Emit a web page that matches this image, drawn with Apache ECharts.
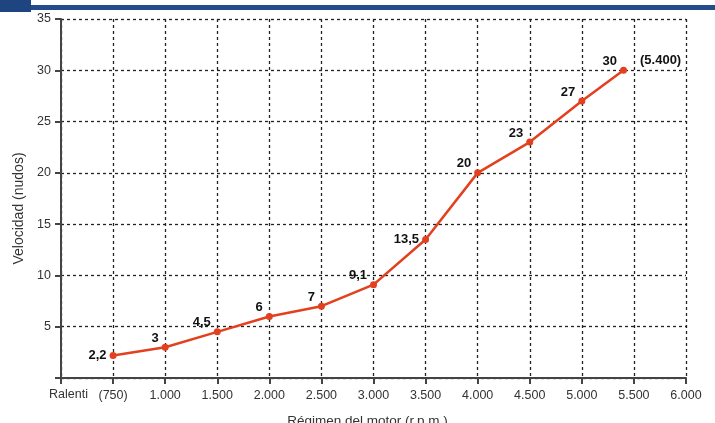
<!DOCTYPE html>
<html>
<head>
<meta charset="utf-8">
<script src="https://cdn.jsdelivr.net/npm/echarts@6/dist/echarts.min.js"></script>
<style>
html,body{margin:0;padding:0;background:#fff;}
#c{width:715px;height:423px;}
</style>
</head>
<body>
<div id="c"></div>
<script>
// Data
var rpmLabels = ['(750)', '1.000', '1.500', '2.000', '2.500', '3.000', '3.500', '4.000', '4.500', '5.000', '5.400'];
var axisPositions = [500, 1000, 1500, 2000, 2500, 3000, 3500, 4000, 4500, 5000, 5400]; // idle (750) drawn in the first slot
var speedKnots = [2.2, 3, 4.5, 6, 7, 9.1, 13.5, 20, 23, 27, 30];
var xTickValues = [500, 1000, 1500, 2000, 2500, 3000, 3500, 4000, 4500, 5000, 5500, 6000];
var xTickLabels = ['(750)', '1.000', '1.500', '2.000', '2.500', '3.000', '3.500', '4.000', '4.500', '5.000', '5.500', '6.000'];
var yTicks = [5, 10, 15, 20, 25, 30, 35];

function fmtNum(v) { return String(v).replace('.', ','); }

var labelOffsets = {0: [0, 0], 6: [0, 0]};
var lineData = axisPositions.map(function (x, i) {
  var item = { value: [x, speedKnots[i]] };
  if (labelOffsets[i]) item.label = { offset: labelOffsets[i] };
  return item;
});
var last = axisPositions.length - 1;

var chart = echarts.init(document.getElementById('c'), null, {renderer: 'canvas'});
var font = 'Liberation Sans, Arial, sans-serif';
chart.setOption({
  backgroundColor: '#ffffff',
  animation: false,
  grid: { left: 61, top: 19, right: 29, bottom: 45, containLabel: false, outerBoundsMode: 'none' },
  graphic: [
    { type: 'rect', shape: { x: 0, y: 5, width: 715, height: 5 }, style: { fill: '#234c8a' } },
    { type: 'rect', shape: { x: 0, y: 0, width: 31, height: 12 }, style: { fill: '#1f4580' } },
    { type: 'text', left: 49, top: 388, style: { text: 'Ralenti', font: '12.5px ' + font, fill: '#333' } }
  ],
  xAxis: {
    type: 'value', min: 0, max: 6000, interval: 500,
    name: 'Régimen del motor (r.p.m.)', nameLocation: 'middle', nameGap: 36,
    nameTextStyle: { fontFamily: font, fontSize: 13.5, color: '#333', padding: [0, 12, 0, 0] },
    axisLine: { show: true, onZero: false, lineStyle: { color: '#444', width: 2 } },
    axisTick: { show: true, length: 6, lineStyle: { color: '#444', width: 2 } },
    axisLabel: {
      fontFamily: font, fontSize: 12.5, color: '#333', margin: 11,
      formatter: function (v) { var i = xTickValues.indexOf(v); return i >= 0 ? xTickLabels[i] : ''; }
    },
    splitLine: { show: true, lineStyle: { color: '#222', width: 1.3, type: [3, 3] } }
  },
  yAxis: {
    type: 'value', min: 0, max: 35, interval: 5,
    name: 'Velocidad (nudos)', nameLocation: 'middle', nameGap: 34,
    nameTextStyle: { fontFamily: font, fontSize: 14, color: '#333', padding: [0, 20, 0, 0] },
    axisLine: { show: true, lineStyle: { color: '#444', width: 2 } },
    axisTick: { show: true, length: 6, lineStyle: { color: '#444', width: 2 } },
    axisLabel: {
      fontFamily: font, fontSize: 12.5, color: '#333', margin: 10,
      formatter: function (v) { return yTicks.indexOf(v) >= 0 ? String(v) : ''; }
    },
    splitLine: { show: true, lineStyle: { color: '#222', width: 1.3, type: [3, 3] } }
  },
  series: [
    {
      type: 'line',
      data: lineData,
      symbol: 'circle', symbolSize: 7,
      lineStyle: { color: '#e2401f', width: 2.5 },
      itemStyle: { color: '#e2401f' },
      label: {
        show: true, position: 'left', distance: 3, offset: [0, -9],
        fontFamily: font, fontSize: 13, fontWeight: 'bold', color: '#111',
        formatter: function (p) { return fmtNum(p.value[1]); }
      },
      z: 5
    },
    {
      type: 'scatter',
      data: [[axisPositions[last], speedKnots[last]]],
      symbolSize: 1,
      itemStyle: { color: 'rgba(0,0,0,0)', opacity: 1 },
      label: {
        show: true, position: 'right', distance: 16, offset: [0, -10],
        fontFamily: font, fontSize: 13, fontWeight: 'bold', color: '#111',
        formatter: function () { return '(' + rpmLabels[last] + ')'; }
      },
      z: 4
    }
  ]
});
</script>
</body>
</html>
